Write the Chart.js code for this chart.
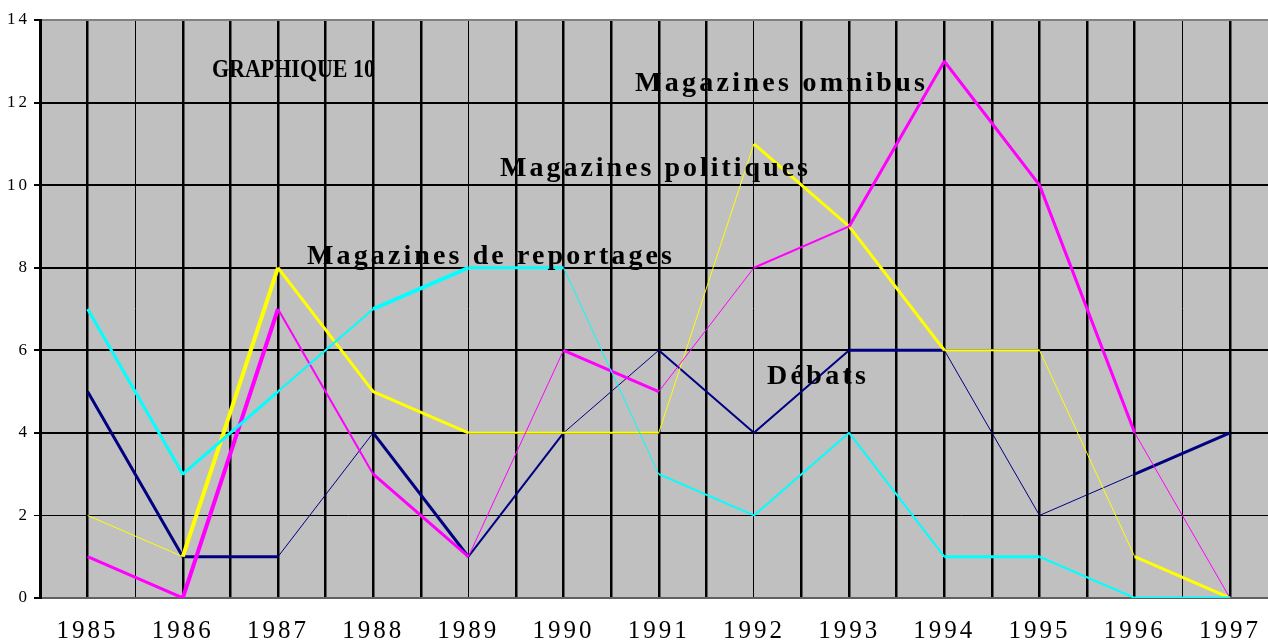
<!DOCTYPE html>
<html>
<head>
<meta charset="utf-8">
<script src="https://cdn.jsdelivr.net/npm/chart.js@4.4.1/dist/chart.umd.min.js"></script>
<style>
  html, body { margin: 0; padding: 0; background: #fff; overflow: hidden; }
  #wrap { width: 1268px; height: 641px; }
</style>
</head>
<body>
<div id="wrap"><canvas id="graph10" width="1268" height="641"></canvas></div>
<script>
const years = ['1985', '1986', '1987', '1988', '1989', '1990', '1991', '1992', '1993', '1994', '1995', '1996', '1997'];
const omnibus = [1, 0, 7, 3, 1, 6, 5, 8, 9, 13, 10, 4, 0];
const politiques = [2, 1, 8, 5, 4, 4, 4, 11, 9, 6, 6, 1, 0];
const reportages = [7, 3, 5, 7, 8, 8, 3, 2, 4, 1, 1, 0, 0];
const debats = [5, 1, 1, 4, 1, 4, 6, 4, 6, 6, 2, 3, 4];

// segment widths (the old export draws each segment with its own pen)
const omnibusPen = [3, 4, 2, 3, 1, 3, 1, 2, 3, 3, 3, 1];
const politiquesPen = [1, 4, 3, 3, 2, 2, 1, 3, 3, 2, 1, 3];
const reportagesPen = [3, 3, 2, 4, 3, 1, 2, 2, 2, 3, 2, 3];
const debatsPen = [3, 3, 1, 3, 2, 1, 2, 2, 3, 1, 1, 3];

const serif = "'Liberation Serif', 'Times New Roman', serif";

const notes = [
  { text: 'GRAPHIQUE 10', x: 212, y: 77, w: 163, size: 26 },
  { text: 'Magazines omnibus', x: 635, y: 91, w: 290, size: 28 },
  { text: 'Magazines politiques', x: 500, y: 176, w: 308, size: 28 },
  { text: 'Magazines de reportages', x: 307, y: 264, w: 365, size: 28 },
  { text: 'Débats', x: 767, y: 384, w: 99, size: 28 },
];

const toPoints = arr => arr.map((v, i) => ({ x: i, y: v }));

const series = (label, values, color, pen, order) => ({
  label,
  data: toPoints(values),
  borderColor: color,
  backgroundColor: color,
  borderWidth: 2,
  pointRadius: 0,
  borderJoinStyle: 'bevel',
  tension: 0,
  order,
  segment: { borderWidth: ctx => pen[ctx.p0DataIndex] },
});

const plotBackground = {
  id: 'plotBackground',
  beforeDraw(chart) {
    const { ctx, chartArea: a } = chart;
    ctx.save();
    ctx.fillStyle = '#c0c0c0';
    ctx.fillRect(a.left, a.top, a.right - a.left, a.bottom - a.top);
    ctx.restore();
    ctx.letterSpacing = '3px';
  },
  afterDraw(chart) {
    chart.ctx.letterSpacing = '0px';
  },
};

const annotations = {
  id: 'annotations',
  afterDatasetsDraw(chart) {
    const ctx = chart.ctx;
    notes.forEach(n => {
      ctx.save();
      ctx.font = `bold ${n.size}px ${serif}`;
      ctx.fillStyle = '#000';
      ctx.textAlign = 'left';
      ctx.textBaseline = 'alphabetic';
      ctx.letterSpacing = '0px';
      const w0 = ctx.measureText(n.text).width;
      if (w0 < n.w) {
        ctx.letterSpacing = ((n.w - w0) / (n.text.length - 1)) + 'px';
        ctx.fillText(n.text, n.x, n.y);
      } else {
        ctx.translate(n.x, n.y);
        ctx.scale(n.w / w0, 1);
        ctx.fillText(n.text, 0, 0);
      }
      ctx.restore();
    });
  },
};

const thinLines = [0.5, 4, 7, 11.5];

new Chart(document.getElementById('graph10'), {
  type: 'line',
  data: {
    datasets: [
      series('Magazines omnibus', omnibus, '#ff00ff', omnibusPen, 1),
      series('Magazines politiques', politiques, '#ffff00', politiquesPen, 2),
      series('Magazines de reportages', reportages, '#00ffff', reportagesPen, 0),
      series('Débats', debats, '#000080', debatsPen, 3),
    ],
  },
  options: {
    responsive: false,
    animation: false,
    layout: { padding: { top: 20, left: 0, right: 0, bottom: 0 } },
    plugins: {
      legend: { display: false },
      tooltip: { enabled: false },
    },
    scales: {
      x: {
        type: 'linear',
        min: -0.5,
        max: 12.4,
        // a line at each year and one halfway between years
        afterBuildTicks: s => {
          s.ticks = years.flatMap((y, i) => [{ value: i - 0.5 }, { value: i }]);
        },
        afterFit: s => {
          s.height = 43;
          s.paddingLeft = 0;
          s.paddingRight = 0;
        },
        ticks: {
          autoSkip: false,
          maxRotation: 0,
          padding: 18,
          color: '#000',
          font: { family: serif, size: 25 },
          callback: v => Number.isInteger(v) ? years[v] : '',
        },
        grid: {
          drawTicks: false,
          color: '#000',
          lineWidth: ctx => thinLines.includes(ctx.tick.value) ? 1 : 2.5,
        },
        border: { color: '#606060', width: 2 },
      },
      y: {
        min: 0,
        max: 14,
        afterFit: s => { s.width = 40; },
        ticks: {
          stepSize: 2,
          padding: 4,
          color: '#000',
          font: { family: serif, size: 17 },
        },
        grid: {
          tickLength: 6,
          color: ctx => (ctx.tick.value === 14 || ctx.tick.value === 0) ? '#808080' : '#000',
          lineWidth: ctx => ctx.tick.value === 2 ? 1 : 2,
          tickColor: '#000',
        },
        border: { color: '#000', width: 3 },
      },
    },
  },
  plugins: [plotBackground, annotations],
});
</script>
</body>
</html>
